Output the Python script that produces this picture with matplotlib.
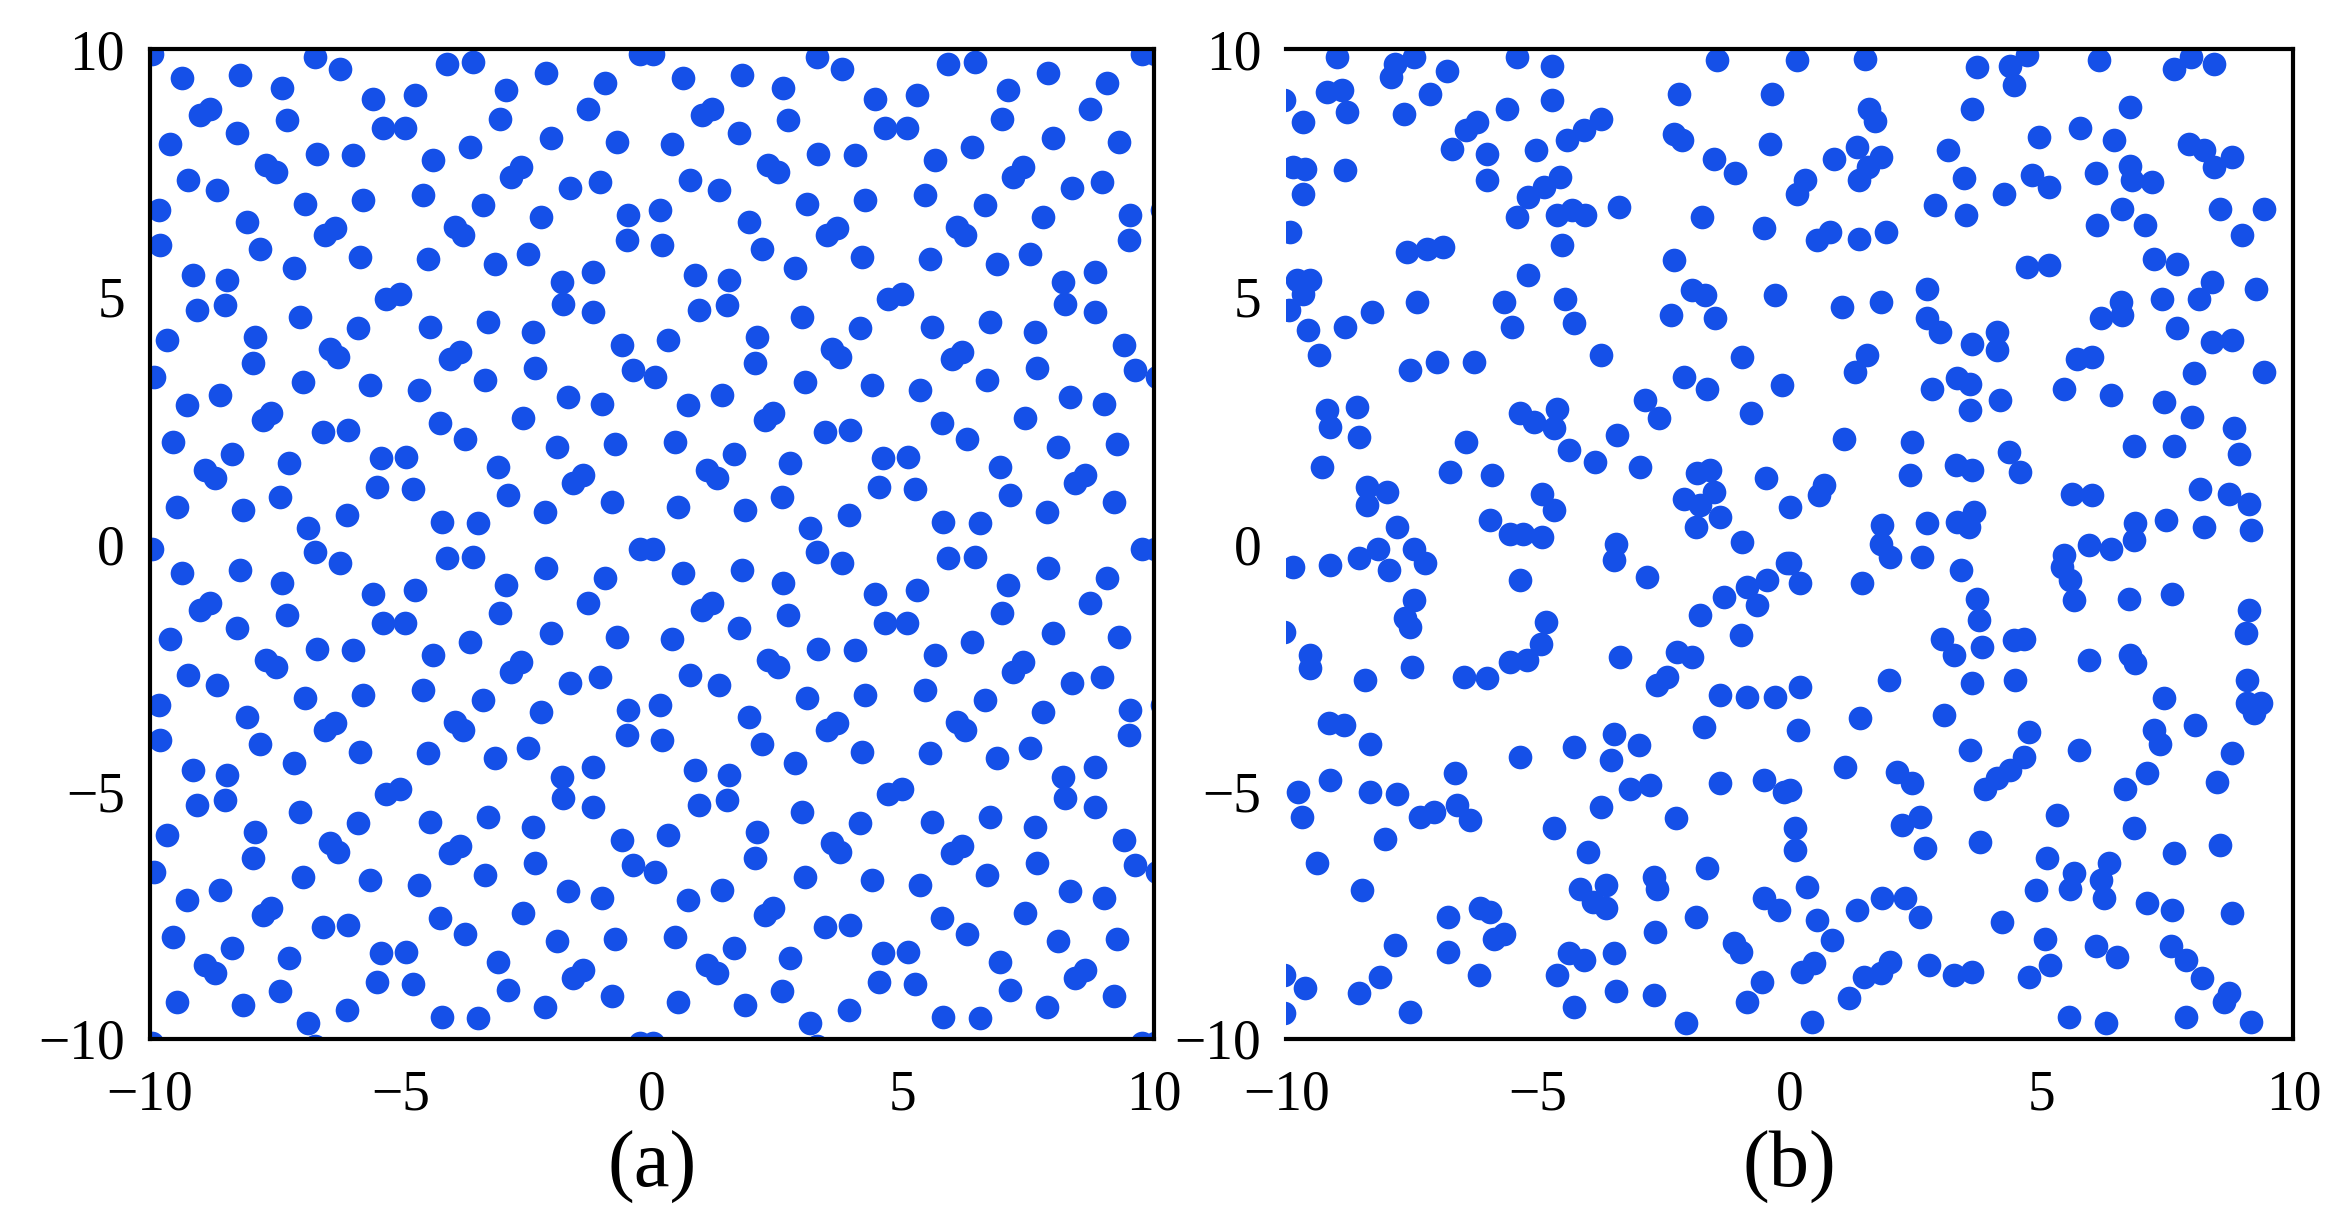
import numpy as np
import matplotlib
matplotlib.use("Agg")
import matplotlib.pyplot as plt

# Panel (a): one periodic tile (offsets u, v from the top-left corner, period 10)
tile_u = [0.03,3.29,3.78,5.91,6.44,7.90,9.06,9.76,0.63,1.79,2.62,4.45,5.28,7.10,1.00,1.20,2.72,1.73,6.97,8.73,
          8.00,9.30,0.40,4.65,5.08,3.32,4.05,5.64,6.37,2.32,2.52,7.20,7.40,0.76,1.33,8.37,8.96,0.17,3.09,4.25,
          5.44,6.64,7.80,9.53,1.93,3.49,3.69,6.08,6.24,0.20,2.19,9.50,4.18,5.54,6.87,7.54,2.86,0.86,1.53,8.20,
          8.83,4.71,4.98,0.93,1.49,8.23,8.83,2.99,4.15,5.58,6.74,7.64,0.33,2.09,9.40,3.59,3.75,5.98,6.18,2.06,
          7.67,0.07,3.05,4.38,5.35,6.67,9.63,0.73,1.39,8.33,9.00,2.26,2.42,7.44,5.78,6.27,3.45,3.95,0.46,8.10,
          9.26,1.63,2.76,4.61,5.11,6.94,1.10,1.29,8.43,8.63,4.52,5.25,7.14,2.59,0.53,1.86,9.20,7.87,3.92,5.81,
          6.54,3.15]
tile_v = [0.09,0.15,0.39,0.29,0.26,0.49,0.69,0.09,0.59,0.53,0.79,1.00,0.93,0.83,1.33,1.20,1.43,1.70,1.40,1.20,
          1.80,1.87,1.91,1.60,1.60,2.11,2.14,2.24,1.97,2.34,2.48,2.58,2.38,2.65,2.85,2.81,2.68,3.25,3.12,3.05,
          2.95,3.15,3.39,3.35,3.49,3.76,3.62,3.59,3.76,3.96,4.03,3.86,4.20,4.23,4.33,4.13,4.43,4.57,4.67,4.70,
          4.50,5.04,4.94,5.27,5.17,5.14,5.31,5.41,5.64,5.61,5.51,5.71,5.88,5.81,5.98,6.05,6.22,6.25,6.11,6.35,
          6.45,6.62,6.72,6.79,6.89,6.69,6.48,7.19,6.99,7.02,7.16,7.49,7.36,7.46,7.56,7.87,7.73,7.70,7.93,8.03,
          7.97,8.17,8.37,8.27,8.24,8.44,8.51,8.67,8.77,8.61,8.84,8.88,9.01,9.04,9.25,9.31,9.14,9.35,9.41,9.55,
          9.58,9.68]
tile_shifts = [0, 10, 20]

# Panel (b): disordered points
xb = [-8.99,-7.84,-7.47,-7.93,-6.81,-5.42,-4.72,-1.44,-10.05,-9.19,-8.89,-8.80,-9.66,-7.67,-7.14,-5.62,-4.72,-2.21,-0.35,-6.21,
      -6.44,-6.71,-6.01,-5.05,-3.76,-4.09,-4.42,-2.31,-2.14,-0.39,-1.51,-1.08,-9.86,-9.62,-8.83,-9.66,-6.01,-4.56,-4.89,-5.19,
      -5.42,-4.62,-4.33,-4.06,-3.40,-1.74,-0.52,-9.92,-7.60,-7.21,-6.88,-4.52,-2.31,-9.79,-9.52,-9.66,-5.19,-1.94,-1.68,-0.29,
      -9.95,-7.40,-8.30,-5.68,-4.46,-2.37,-1.48,-9.56,-8.83,-5.52,-4.29,-9.36,-7.54,-7.01,-6.28,-3.76,-0.95,-2.11,-1.64,-0.15,
      -9.19,-9.13,-8.60,-8.56,-5.35,-5.09,-4.62,-4.69,-4.39,-3.86,-2.87,-2.60,-3.43,-0.78,-6.44,-9.29,-6.74,-5.91,-2.97,-8.40,
      -8.00,-8.40,-1.84,-1.58,-1.51,-2.11,-1.78,-1.38,-1.87,-0.48,-4.92,-4.69,-5.95,-5.55,-5.29,-4.92,-7.80,
      0.14,1.50,3.72,4.38,4.71,4.45,6.13,7.62,7.96,8.42,3.62,6.76,1.57,1.70,4.94,5.77,6.43,7.92,8.22,8.78,
      8.42,3.15,0.87,1.33,1.80,1.37,1.56,0.31,0.14,3.45,4.81,5.14,4.25,6.07,6.76,6.80,7.19,2.89,3.49,6.60,
      7.06,6.10,8.55,9.41,8.98,0.54,0.80,1.37,1.90,4.71,5.14,7.23,7.69,8.39,8.12,7.39,9.25,2.72,1.04,1.80,
      2.72,2.99,3.62,4.11,4.11,6.57,6.17,6.60,7.69,8.39,8.78,5.70,6.00,1.53,1.30,8.02,9.41,3.32,3.58,2.82,
      5.44,6.37,4.18,3.58,7.43,7.99,8.82,8.92,1.07,2.43,6.83,7.62,4.35,4.58,3.29,3.62,2.39,0.67,0.57,0.01,
      5.60,6.00,8.15,8.72,9.11,3.65,3.32,3.55,2.72,1.83,6.86,7.46,8.22,9.15,
      -3.46,-0.95,-9.86,-9.13,-8.56,-8.17,-7.97,-7.47,-7.24,-3.50,-5.35,-2.84,-0.05,-0.45,-0.85,-1.31,-0.65,-7.47,-7.64,-7.54,
      -10.05,-4.85,-4.95,-5.22,-5.55,-1.78,-0.98,-9.52,-9.52,-7.50,-8.43,-6.48,-6.01,-3.37,-2.24,-1.94,-2.44,-2.64,-1.38,-0.85,
      -0.29,-9.16,-8.86,-8.33,-1.71,-3.50,-3.00,-4.29,-5.35,-3.56,-6.64,-9.13,-9.76,-8.33,-7.80,-3.17,-2.77,-1.38,-0.52,-0.12,
      -9.69,-7.34,-7.07,-6.61,-6.35,-3.76,-2.27,-4.69,-8.03,-4.00,-9.39,-1.64,-2.70,-2.64,-4.16,-3.66,-3.90,-3.66,-8.50,-0.52,
      -0.22,-6.78,-6.15,-5.95,-1.87,-5.68,-5.88,-2.67,-7.84,-6.78,-1.11,-0.98,-4.39,-4.09,-3.50,-4.62,-6.18,-8.13,-10.05,-9.62,
      -8.56,-3.46,-2.70,-0.55,-0.85,-4.29,-7.54,-10.05,-2.07,
      1.80,1.99,2.62,3.39,5.94,6.37,6.83,5.44,5.41,5.57,5.64,0.01,0.21,1.43,6.73,7.59,3.72,3.75,3.82,3.02,
      3.25,4.45,4.64,9.11,9.05,5.94,6.76,6.86,1.96,3.62,4.48,0.21,9.08,9.08,9.35,9.21,7.43,3.06,1.40,0.17,
      8.05,4.74,7.23,7.36,3.58,5.74,8.78,4.64,4.38,4.11,3.88,1.10,2.13,2.43,7.09,6.66,8.49,0.01,5.31,0.11,
      0.11,2.23,2.59,2.69,6.83,3.78,8.55,7.62,5.11,5.64,5.57,6.33,6.17,6.23,4.88,0.34,1.83,2.29,2.59,1.33,
      0.54,0.84,4.21,7.09,7.59,8.78,5.07,6.07,6.50,7.56,7.86,8.19,8.72,8.62,0.47,0.24,1.99,1.80,1.47,2.76,
      3.25,3.62,5.17,4.74,1.17,0.44,5.54,6.27,7.86,9.15]
yb = [9.84,9.71,9.84,9.44,9.57,9.84,9.67,9.78,8.97,9.14,9.17,8.73,8.53,8.70,9.10,8.80,8.97,9.10,9.10,8.53,
      8.36,7.99,7.89,7.96,8.60,8.36,8.16,8.29,8.16,8.09,7.79,7.49,7.62,7.59,7.55,7.08,7.35,7.42,7.22,7.02,
      6.61,6.65,6.75,6.65,6.81,6.61,6.38,6.31,5.90,5.97,6.00,6.04,5.74,5.33,5.33,5.06,5.43,5.13,5.03,5.03,
      4.73,4.89,4.69,4.89,4.96,4.62,4.56,4.32,4.39,4.39,4.46,3.82,3.51,3.68,3.68,3.82,3.78,3.38,3.14,3.21,
      2.71,2.37,2.77,2.17,2.64,2.47,2.74,2.34,1.90,1.66,2.91,2.54,2.20,2.64,2.07,1.56,1.46,1.39,1.56,1.16,
      1.06,0.79,1.43,1.49,1.06,0.92,0.79,0.55,0.35,1.33,1.02,0.69,0.48,0.21,0.21,0.15,0.35,
      9.78,9.81,9.64,9.67,9.88,9.27,9.78,9.61,9.84,9.71,8.80,8.83,8.80,8.56,8.23,8.40,8.16,8.09,7.96,7.82,
      7.62,7.96,7.79,8.03,7.82,7.35,7.62,7.35,7.08,7.39,7.45,7.22,7.08,7.49,7.65,7.35,7.32,6.85,6.65,6.78,
      6.44,6.44,6.78,6.78,6.24,6.14,6.31,6.17,6.31,5.60,5.63,5.77,5.67,5.30,4.96,4.96,5.16,5.16,4.79,4.89,
      4.56,4.29,4.05,4.29,3.92,4.89,4.56,4.62,4.36,4.09,4.12,3.75,3.78,3.82,3.48,3.45,3.48,3.35,3.24,3.14,
      3.14,3.01,2.91,2.71,2.87,2.57,2.34,1.83,2.13,2.07,1.98,1.98,1.86,1.46,1.59,1.49,1.39,1.19,0.99,0.75,
      1.02,0.99,1.12,1.02,0.82,0.65,0.45,0.35,0.42,0.38,0.42,0.48,0.35,0.28,
      0.01,0.05,-0.46,-0.42,-0.29,-0.09,-0.53,-0.09,-0.39,-0.32,-0.73,-0.66,-0.39,-0.73,-0.86,-1.06,-1.23,-1.13,-1.50,-1.67,
      -1.77,-1.57,-2.01,-2.34,-2.38,-1.43,-1.84,-2.24,-2.51,-2.48,-2.75,-2.68,-2.71,-2.28,-2.18,-2.28,-2.68,-2.85,-3.05,-3.08,
      -3.08,-3.62,-3.66,-4.03,-3.69,-3.83,-4.06,-4.09,-4.30,-4.36,-4.63,-4.77,-5.00,-5.00,-5.04,-4.94,-4.87,-4.83,-4.77,-5.00,
      -5.51,-5.51,-5.41,-5.27,-5.58,-5.31,-5.54,-5.74,-5.95,-6.22,-6.45,-6.55,-6.72,-6.96,-6.96,-6.89,-7.23,-7.36,-6.99,-7.16,
      -7.39,-7.53,-7.36,-7.43,-7.53,-7.87,-7.97,-7.83,-8.10,-8.24,-8.07,-8.24,-8.27,-8.40,-8.27,-8.71,-8.71,-8.74,-8.71,-8.97,
      -9.08,-9.04,-9.11,-8.84,-9.25,-9.35,-9.45,-9.48,-9.68,
      0.01,-0.26,-0.26,-0.53,-0.02,-0.09,0.08,-0.22,-0.46,-0.73,-1.13,-0.39,-0.79,-0.79,-1.10,-1.00,-1.10,-1.54,-2.07,-1.91,
      -2.24,-1.94,-1.91,-1.33,-1.80,-2.34,-2.24,-2.41,-2.75,-2.81,-2.75,-2.88,-2.75,-3.22,-3.22,-3.42,-3.12,-3.45,-3.52,-3.76,
      -3.66,-3.79,-3.76,-4.03,-4.16,-4.16,-4.23,-4.30,-4.57,-4.73,-4.94,-4.50,-4.60,-4.83,-4.63,-4.94,-4.80,-4.97,-5.47,-5.74,
      -6.18,-5.68,-5.51,-6.15,-5.74,-6.01,-6.08,-6.25,-6.35,-6.65,-6.96,-6.45,-6.79,-7.16,-6.99,-6.92,-7.16,-7.16,-7.53,-7.39,
      -7.60,-8.00,-7.63,-7.26,-7.39,-7.46,-7.97,-8.13,-8.34,-8.13,-8.40,-8.77,-9.08,-9.25,-8.47,-8.64,-8.44,-8.67,-8.74,-8.51,
      -8.71,-8.64,-8.51,-8.74,-9.18,-9.65,-9.55,-9.68,-9.55,-9.65]

ticks = [-10, -5, 0, 5, 10]
tick_labels = ["\u221210", "\u22125", "0", "5", "10"]
panel_labels = ["(a)", "(b)"]

plt.rcParams['font.family'] = ['Liberation Serif', 'DejaVu Serif']
fig = plt.figure(figsize=(23.26, 12.31), dpi=100)
ax1 = fig.add_axes([0.0645, 0.156, 0.4315, 0.804])
ax2 = fig.add_axes([0.553, 0.156, 0.433, 0.804])

col = '#1550E8'
tu = np.array(tile_u); tv = np.array(tile_v)
xa = np.concatenate([-10 + tu + s for s in tile_shifts for _ in tile_shifts])
ya = np.concatenate([10 - tv - t for _ in tile_shifts for t in tile_shifts])
ax1.scatter(xa, ya, s=290, color=col, linewidths=0)
ax2.scatter(xb, yb, s=290, color=col, linewidths=0)

for ax, lab in zip([ax1, ax2], panel_labels):
    ax.set_xlim(-10, 10)
    ax.set_ylim(-10, 10)
    ax.set_xticks(ticks)
    ax.set_yticks(ticks)
    ax.set_xticklabels(tick_labels)
    ax.set_yticklabels(tick_labels)
    ax.tick_params(length=0, labelsize=40)
    ax.tick_params(axis='x', pad=22)
    ax.tick_params(axis='y', pad=18)
    for sp in ax.spines.values():
        sp.set_linewidth(3)
    pos = ax.get_position()
    fig.text((pos.x0 + pos.x1) / 2, 0.052, lab, ha='center', va='center', fontsize=58)
ax2.spines['left'].set_visible(False)

fig.savefig('out.png', dpi=100)
